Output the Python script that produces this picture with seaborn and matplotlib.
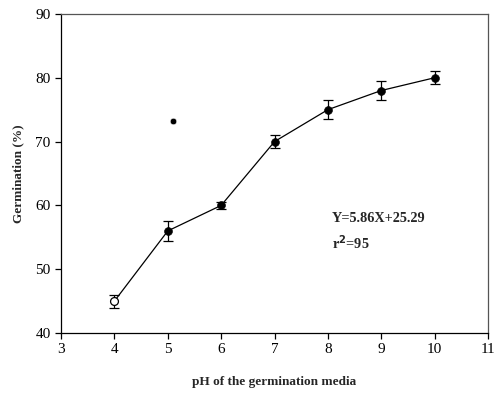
import numpy as np
import pandas as pd
import matplotlib
matplotlib.use("Agg")
import matplotlib.pyplot as plt
import seaborn as sns

# data
ph = [4, 5, 6, 7, 8, 9, 10]
germ = [45, 56, 60, 70, 75, 78, 80]
err = [1.0, 1.5, 0.5, 1.0, 1.5, 1.5, 1.0]
stray_x = [5.1]
stray_y = [73.2]

df = pd.DataFrame({"ph": ph, "germ": germ, "err": err})

sns.set_style("ticks")
plt.rcParams["font.family"] = ["Liberation Serif", "DejaVu Serif"]

fig = plt.figure(figsize=(4.94, 3.97), dpi=100)
ax = fig.add_axes([0.1235, 0.161, 0.8645, 0.804])

ax.errorbar(df["ph"], df["germ"], yerr=df["err"], fmt="none", ecolor="black",
            elinewidth=0.9, capsize=3.5, capthick=0.9, zorder=2)
sns.lineplot(data=df, x="ph", y="germ", color="black", linewidth=0.9, ax=ax, zorder=3)
sns.scatterplot(x=df["ph"][1:], y=df["germ"][1:], color="black", s=32,
                edgecolor="black", ax=ax, zorder=4)
sns.scatterplot(x=df["ph"][:1], y=df["germ"][:1], facecolor="white", s=32,
                edgecolor="black", linewidth=0.9, ax=ax, zorder=4)
sns.scatterplot(x=stray_x, y=stray_y, color="black", s=22, ax=ax, zorder=4)

ax.set_xlim(3, 11)
ax.set_ylim(40, 90)
ax.set_xticks(range(3, 12))
ax.set_yticks(range(40, 91, 10))
ax.tick_params(direction="out", length=4, width=0.9, labelsize=11, colors="black")
for s in ["left", "bottom"]:
    ax.spines[s].set_color("black")
    ax.spines[s].set_linewidth(0.9)
for s in ["top", "right"]:
    ax.spines[s].set_visible(True)
    ax.spines[s].set_color("#555555")
    ax.spines[s].set_linewidth(0.9)

ax.set_xlabel("pH of the germination media", fontsize=9.5, fontweight="bold", labelpad=14)
ax.set_ylabel("Germination (%)", fontsize=9.5, fontweight="bold", labelpad=8)

ax.text(8.08, 58.0, "Y=5.86X+25.29", fontsize=10.3, fontweight="bold", va="center")
ax.text(8.08, 54.2, r"r$^\mathbf{2}$=95", fontsize=10.3, fontweight="bold", va="center")

fig.savefig("out.png", dpi=100)
